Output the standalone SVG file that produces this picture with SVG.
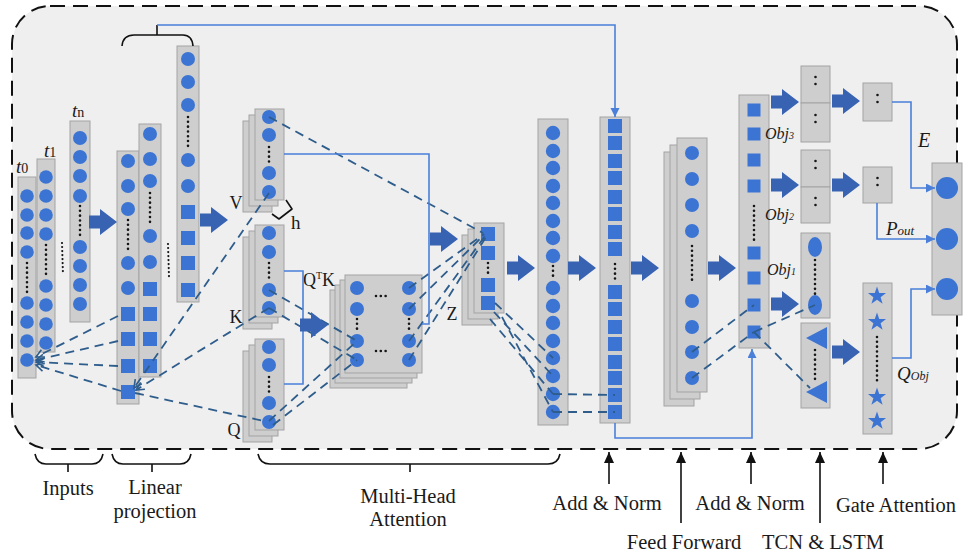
<svg xmlns="http://www.w3.org/2000/svg" width="963" height="554" viewBox="0 0 963 554">
<defs>
<style>
.bg{fill:#efefef;stroke:#111;stroke-width:2;stroke-dasharray:15 8}
.card{fill:#cecece;stroke:#a3a3a3;stroke-width:1}
.n{fill:#3c74d3}
.vd{fill:none;stroke:#151515;stroke-width:2.6;stroke-linecap:round;stroke-dasharray:0.01 4.8}
.dash{fill:none;stroke:#2e5d8c;stroke-width:1.8;stroke-dasharray:9 6}
.bl{fill:none;stroke:#4a80da;stroke-width:1.6}
.ba{fill:#3862b2}
.t{font-family:"Liberation Serif","Times New Roman",serif;fill:#1a1a1a}
.it{font-style:italic}
.br{fill:none;stroke:#111;stroke-width:1.6}
.ka{fill:none;stroke:#111;stroke-width:1.6}
</style>
<path id="ba" d="M0,-6.5H11V-13L28,0L11,13V6.5H0Z"/>
<path id="star" d="M0,-9.5L2.23,-3.07L9.03,-2.94L3.61,1.17L5.58,7.69L0,3.8L-5.58,7.69L-3.61,1.17L-9.03,-2.94L-2.23,-3.07Z"/>
<marker id="md" markerUnits="userSpaceOnUse" markerWidth="12" markerHeight="12" refX="9" refY="5" orient="auto"><path d="M1,1L9,5L1,9" fill="none" stroke="#2e5d8c" stroke-width="1.6"/></marker>
<marker id="mb" markerUnits="userSpaceOnUse" markerWidth="10" markerHeight="10" refX="9" refY="4.5" orient="auto"><path d="M0,0L9,4.5L0,9Z" fill="#4a80da"/></marker>
<marker id="mk" markerUnits="userSpaceOnUse" markerWidth="12" markerHeight="12" refX="11" refY="5" orient="auto"><path d="M0,0L11,5L0,10Z" fill="#111"/></marker>
</defs>

<rect class="bg" x="12" y="6" width="945" height="443" rx="38"/>

<g id="inputs">
<rect class="card" x="18" y="177" width="18" height="201"/>
<circle class="n" cx="27" cy="196" r="6.8"/><circle class="n" cx="27" cy="215" r="6.8"/><circle class="n" cx="27" cy="233" r="6.8"/><circle class="n" cx="27" cy="252" r="6.8"/>
<line class="vd" x1="27" y1="263" x2="27" y2="293"/>
<circle class="n" cx="27" cy="303" r="6.8"/><circle class="n" cx="27" cy="322" r="6.8"/><circle class="n" cx="27" cy="341" r="6.8"/><circle class="n" cx="27" cy="360" r="6.8"/>
<rect class="card" x="37" y="159" width="18" height="193"/>
<circle class="n" cx="46" cy="177" r="6.8"/><circle class="n" cx="46" cy="196" r="6.8"/><circle class="n" cx="46" cy="215" r="6.8"/><circle class="n" cx="46" cy="234" r="6.8"/>
<line class="vd" x1="46" y1="245" x2="46" y2="276"/>
<circle class="n" cx="46" cy="286" r="6.8"/><circle class="n" cx="46" cy="305" r="6.8"/><circle class="n" cx="46" cy="324" r="6.8"/><circle class="n" cx="46" cy="343" r="6.8"/>
<line class="vd" x1="62" y1="243" x2="63" y2="275" style="stroke-width:2.2;stroke-dasharray:0.01 4"/>
<rect class="card" x="70" y="121" width="20" height="201"/>
<circle class="n" cx="80" cy="138" r="7"/><circle class="n" cx="80" cy="157" r="7"/><circle class="n" cx="80" cy="176" r="7"/><circle class="n" cx="80" cy="196" r="7"/>
<line class="vd" x1="80" y1="206" x2="80" y2="237"/>
<circle class="n" cx="80" cy="247" r="7"/><circle class="n" cx="80" cy="266" r="7"/><circle class="n" cx="80" cy="285" r="7"/><circle class="n" cx="80" cy="304" r="7"/>
<text class="t" x="16" y="173" font-size="19"><tspan class="it">t</tspan><tspan font-size="14">0</tspan></text>
<text class="t" x="44" y="157" font-size="19"><tspan class="it">t</tspan><tspan font-size="14">1</tspan></text>
<text class="t" x="72" y="117" font-size="19"><tspan class="it">t</tspan><tspan font-size="14">n</tspan></text>
</g>

<g id="linear-projection">
<rect class="card" x="117" y="151" width="22" height="253"/>
<circle class="n" cx="128" cy="161" r="7"/><circle class="n" cx="128" cy="186" r="7"/><circle class="n" cx="128" cy="209" r="7"/>
<line class="vd" x1="128" y1="220" x2="128" y2="252"/>
<circle class="n" cx="128" cy="263" r="7"/><circle class="n" cx="128" cy="288" r="7"/>
<rect class="n" x="121" y="307" width="14" height="14"/><rect class="n" x="121" y="332" width="14" height="14"/><rect class="n" x="121" y="359" width="14" height="14"/><rect class="n" x="121" y="385" width="14" height="14"/>
<rect class="card" x="139" y="124" width="22" height="253"/>
<circle class="n" cx="150" cy="134" r="7"/><circle class="n" cx="150" cy="159" r="7"/><circle class="n" cx="150" cy="181" r="7"/>
<line class="vd" x1="150" y1="193" x2="150" y2="226"/>
<circle class="n" cx="150" cy="236" r="7"/><circle class="n" cx="150" cy="262" r="7"/>
<rect class="n" x="143" y="282" width="14" height="14"/><rect class="n" x="143" y="307" width="14" height="14"/><rect class="n" x="143" y="332" width="14" height="14"/><rect class="n" x="143" y="359" width="14" height="14"/>
<line class="vd" x1="168" y1="244" x2="169" y2="277" style="stroke-width:2.2;stroke-dasharray:0.01 4"/>
<rect class="card" x="177" y="46" width="22" height="256"/>
<circle class="n" cx="188" cy="59" r="7"/><circle class="n" cx="188" cy="82" r="7"/><circle class="n" cx="188" cy="105" r="7"/>
<line class="vd" x1="188" y1="117" x2="188" y2="150"/>
<circle class="n" cx="188" cy="160" r="7"/><circle class="n" cx="188" cy="186" r="7"/>
<rect class="n" x="181" y="205" width="14" height="14"/><rect class="n" x="181" y="231" width="14" height="14"/><rect class="n" x="181" y="256" width="14" height="14"/><rect class="n" x="181" y="283" width="14" height="14"/>
<path class="br" d="M122,46Q123,35 134,35H183Q192,35 193,46M157,35V25"/>
</g>

<g id="V">
<rect class="card" x="243" y="121" width="29" height="91"/><rect class="card" x="249" y="115" width="29" height="91"/><rect class="card" x="255" y="109" width="29" height="91"/>
<circle class="n" cx="269" cy="117" r="7"/><circle class="n" cx="269" cy="135" r="7"/>
<line class="vd" x1="269" y1="147" x2="269" y2="163"/>
<circle class="n" cx="269" cy="173" r="7"/><circle class="n" cx="269" cy="192" r="7"/>
<text class="t" x="236" y="209" font-size="18" text-anchor="middle">V</text>
<path class="br" d="M272,214L279,219L292,209L286,200" stroke-linejoin="round"/>
<text class="t" x="291" y="229" font-size="19">h</text>
</g>

<g id="K">
<rect class="card" x="243" y="237" width="29" height="92"/><rect class="card" x="249" y="231" width="29" height="92"/><rect class="card" x="255" y="225" width="29" height="92"/>
<circle class="n" cx="269" cy="233" r="7"/><circle class="n" cx="269" cy="252" r="7"/>
<line class="vd" x1="269" y1="263" x2="269" y2="279"/>
<circle class="n" cx="269" cy="290" r="7"/><circle class="n" cx="269" cy="308" r="7"/>
<text class="t" x="236" y="323" font-size="18" text-anchor="middle">K</text>
</g>

<g id="Q">
<rect class="card" x="243" y="351" width="29" height="91"/><rect class="card" x="249" y="345" width="29" height="91"/><rect class="card" x="255" y="339" width="29" height="91"/>
<circle class="n" cx="269" cy="347" r="7"/><circle class="n" cx="269" cy="365" r="7"/>
<line class="vd" x1="269" y1="377" x2="269" y2="393"/>
<circle class="n" cx="269" cy="403" r="7"/><circle class="n" cx="269" cy="422" r="7"/>
<text class="t" x="234" y="436" font-size="18" text-anchor="middle">Q</text>
</g>

<g id="QtK">
<rect class="card" x="330" y="290" width="77" height="98"/><rect class="card" x="335" y="285" width="77" height="98"/><rect class="card" x="340" y="280" width="77" height="98"/><rect class="card" x="345" y="275" width="77" height="98"/>
<circle class="n" cx="357" cy="288" r="7"/><circle class="n" cx="357" cy="309" r="7"/><circle class="n" cx="357" cy="341" r="7"/><circle class="n" cx="357" cy="360" r="7"/>
<circle class="n" cx="409" cy="288" r="7"/><circle class="n" cx="409" cy="309" r="7"/><circle class="n" cx="409" cy="341" r="7"/><circle class="n" cx="409" cy="360" r="7"/>
<line class="vd" x1="357" y1="319" x2="357" y2="332"/><line class="vd" x1="409" y1="319" x2="409" y2="332"/>
<line class="vd" x1="376" y1="296" x2="390" y2="296"/><line class="vd" x1="376" y1="351" x2="390" y2="351"/>
<text class="t" x="303" y="286" font-size="18">Q<tspan font-size="10" dy="-7">T</tspan><tspan dy="7">K</tspan></text>
</g>

<g id="Z">
<rect class="card" x="462" y="235" width="30" height="90"/><rect class="card" x="468" y="229" width="30" height="90"/><rect class="card" x="474" y="223" width="30" height="90"/>
<rect class="n" x="481" y="227" width="14" height="14"/><rect class="n" x="481" y="246" width="14" height="14"/>
<line class="vd" x1="488" y1="263" x2="488" y2="276"/>
<rect class="n" x="481" y="278" width="14" height="14"/><rect class="n" x="481" y="296" width="14" height="14"/>
<text class="t" x="452" y="320" font-size="18" text-anchor="middle">Z</text>
</g>

<g id="concat">
<rect class="card" x="538" y="119" width="30" height="306"/>
<circle class="n" cx="553" cy="133" r="7.2"/><circle class="n" cx="553" cy="151" r="7.2"/><circle class="n" cx="553" cy="168" r="7.2"/><circle class="n" cx="553" cy="186" r="7.2"/><circle class="n" cx="553" cy="203" r="7.2"/><circle class="n" cx="553" cy="221" r="7.2"/><circle class="n" cx="553" cy="238" r="7.2"/><circle class="n" cx="553" cy="256" r="7.2"/>
<line class="vd" x1="553" y1="266" x2="553" y2="279"/>
<circle class="n" cx="553" cy="288" r="7.2"/><circle class="n" cx="553" cy="306" r="7.2"/><circle class="n" cx="553" cy="323" r="7.2"/><circle class="n" cx="553" cy="341" r="7.2"/><circle class="n" cx="553" cy="358" r="7.2"/><circle class="n" cx="553" cy="376" r="7.2"/><circle class="n" cx="553" cy="394" r="7.2"/><circle class="n" cx="553" cy="412" r="7.2"/>
</g>

<g id="add-norm-1">
<rect class="card" x="600" y="117" width="30" height="306"/>
<rect class="n" x="608" y="119" width="14" height="14"/><rect class="n" x="608" y="136" width="14" height="14"/><rect class="n" x="608" y="154" width="14" height="14"/><rect class="n" x="608" y="171" width="14" height="14"/><rect class="n" x="608" y="190" width="14" height="14"/><rect class="n" x="608" y="207" width="14" height="14"/><rect class="n" x="608" y="225" width="14" height="14"/><rect class="n" x="608" y="242" width="14" height="14"/>
<line class="vd" x1="615" y1="264" x2="615" y2="279"/>
<rect class="n" x="608" y="285" width="14" height="14"/><rect class="n" x="608" y="302" width="14" height="14"/><rect class="n" x="608" y="320" width="14" height="14"/><rect class="n" x="608" y="337" width="14" height="14"/><rect class="n" x="608" y="355" width="14" height="14"/><rect class="n" x="608" y="371" width="14" height="14"/><rect class="n" x="608" y="388" width="14" height="14"/><rect class="n" x="608" y="405" width="14" height="14"/>
</g>

<g id="feed-forward">
<rect class="card" x="664" y="152" width="30" height="254"/><rect class="card" x="670" y="145" width="30" height="254"/><rect class="card" x="677" y="138" width="30" height="254"/>
<circle class="n" cx="692" cy="153" r="7"/><circle class="n" cx="692" cy="179" r="7"/><circle class="n" cx="692" cy="205" r="7"/><circle class="n" cx="692" cy="231" r="7"/>
<line class="vd" x1="692" y1="246" x2="692" y2="284"/>
<circle class="n" cx="692" cy="301" r="7"/><circle class="n" cx="692" cy="327" r="7"/><circle class="n" cx="692" cy="352" r="7"/><circle class="n" cx="692" cy="378" r="7"/>
</g>

<g id="add-norm-2">
<rect class="card" x="739" y="95" width="30" height="253"/>
<rect class="n" x="747.5" y="103.5" width="13" height="13"/><rect class="n" x="747.5" y="127.5" width="13" height="13"/><rect class="n" x="747.5" y="153.5" width="13" height="13"/><rect class="n" x="747.5" y="179.5" width="13" height="13"/>
<line class="vd" x1="754" y1="206" x2="754" y2="243"/>
<rect class="n" x="747.5" y="246.5" width="13" height="13"/><rect class="n" x="747.5" y="271.5" width="13" height="13"/><rect class="n" x="747.5" y="298.5" width="13" height="13"/><rect class="n" x="747.5" y="325.5" width="13" height="13"/>
</g>

<g id="obj3">
<rect class="card" x="801" y="66" width="29" height="37"/><rect class="card" x="801" y="103" width="29" height="39"/>
<line class="vd" x1="815.5" y1="77" x2="815.5" y2="91" style="stroke-dasharray:0.01 7"/>
<line class="vd" x1="815.5" y1="115" x2="815.5" y2="129" style="stroke-dasharray:0.01 7"/>
<text class="t it" x="765" y="139" font-size="16">Obj<tspan font-size="10">3</tspan></text>
</g>
<g id="obj2">
<rect class="card" x="801" y="150" width="29" height="37"/><rect class="card" x="801" y="187" width="29" height="36"/>
<line class="vd" x1="815.5" y1="161" x2="815.5" y2="175" style="stroke-dasharray:0.01 7"/>
<line class="vd" x1="815.5" y1="198" x2="815.5" y2="212" style="stroke-dasharray:0.01 7"/>
<text class="t it" x="765" y="220" font-size="16">Obj<tspan font-size="10">2</tspan></text>
</g>
<g id="obj1">
<rect class="card" x="801" y="233" width="29" height="85"/>
<ellipse class="n" cx="815" cy="247" rx="7" ry="10"/>
<line class="vd" x1="815" y1="260" x2="815" y2="294"/>
<ellipse class="n" cx="815" cy="305" rx="7" ry="10"/>
<text class="t it" x="767" y="275" font-size="16">Obj<tspan font-size="10">1</tspan></text>
</g>
<g id="tcn">
<rect class="card" x="801" y="323" width="29" height="85"/>
<path class="n" d="M806,338L827,327V349Z"/>
<line class="vd" x1="815" y1="350" x2="815" y2="381"/>
<path class="n" d="M806,392L827,381V403Z"/>
</g>

<g id="E">
<rect class="card" x="863" y="83" width="29" height="38"/>
<line class="vd" x1="877.5" y1="95" x2="877.5" y2="109" style="stroke-dasharray:0.01 7"/>
</g>
<g id="P">
<rect class="card" x="863" y="167" width="29" height="36"/>
<line class="vd" x1="877.5" y1="178" x2="877.5" y2="192" style="stroke-dasharray:0.01 7"/>
</g>
<g id="QObj">
<rect class="card" x="863" y="283" width="29" height="151"/>
<use href="#star" class="n" x="877" y="296"/><use href="#star" class="n" x="877" y="322"/>
<line class="vd" x1="877" y1="337" x2="877" y2="382"/>
<use href="#star" class="n" x="877" y="397"/><use href="#star" class="n" x="877" y="421"/>
</g>

<g id="output">
<rect class="card" x="932" y="163" width="30" height="152"/>
<circle class="n" cx="947" cy="188" r="11"/><circle class="n" cx="947" cy="239" r="11"/><circle class="n" cx="947" cy="289" r="11"/>
</g>

<g id="connectors">
<line class="dash" x1="118" y1="316" x2="36" y2="357" marker-end="url(#md)"/>
<line class="dash" x1="118" y1="341" x2="36" y2="360" marker-end="url(#md)"/>
<line class="dash" x1="118" y1="366" x2="36" y2="362" marker-end="url(#md)"/>
<line class="dash" x1="121" y1="391" x2="36" y2="365" marker-end="url(#md)"/>
<line class="dash" x1="269" y1="193" x2="134" y2="388" marker-end="url(#md)"/>
<line class="dash" x1="269" y1="308" x2="136" y2="390" marker-end="url(#md)"/>
<line class="dash" x1="135" y1="393" x2="264" y2="421"/>
<line class="dash" x1="269" y1="117" x2="483" y2="233"/>
<line class="dash" x1="269" y1="290" x2="357" y2="341"/>
<line class="dash" x1="269" y1="308" x2="357" y2="360"/>
<line class="dash" x1="269" y1="421" x2="357" y2="341"/>
<line class="dash" x1="273" y1="425" x2="357" y2="360"/>
<line class="dash" x1="409" y1="288" x2="484" y2="234"/>
<line class="dash" x1="409" y1="309" x2="484" y2="235"/>
<line class="dash" x1="409" y1="341" x2="485" y2="236"/>
<line class="dash" x1="409" y1="360" x2="486" y2="237"/>
<line class="dash" x1="495" y1="303" x2="553" y2="358"/>
<line class="dash" x1="494" y1="312" x2="553" y2="376"/>
<line class="dash" x1="490" y1="319" x2="553" y2="394"/>
<line class="dash" x1="502" y1="317" x2="553" y2="412"/>
<line class="dash" x1="553" y1="394" x2="615" y2="395"/>
<line class="dash" x1="553" y1="412" x2="615" y2="412"/>
<line class="dash" x1="692" y1="352" x2="754" y2="305"/>
<line class="dash" x1="692" y1="378" x2="754" y2="332"/>
<line class="dash" x1="754" y1="332" x2="815" y2="305"/>
<line class="dash" x1="754" y1="332" x2="810" y2="388"/>

<path class="bl" d="M157,25H615V117" marker-end="url(#mb)"/>
<path class="bl" d="M284,154H429V324H422"/>
<path class="bl" d="M284,271H303V384H284"/>
<path class="bl" d="M615,423V438H752V349" marker-end="url(#mb)"/>
<path class="bl" d="M892,102H911V188H935" marker-end="url(#mb)"/>
<path class="bl" d="M877,203V239H935" marker-end="url(#mb)"/>
<path class="bl" d="M892,358H911V289H935" marker-end="url(#mb)"/>

<use href="#ba" class="ba" x="89" y="222"/>
<use href="#ba" class="ba" x="200" y="220"/>
<use href="#ba" class="ba" x="300" y="325"/>
<use href="#ba" class="ba" x="430" y="239"/>
<use href="#ba" class="ba" x="507" y="268"/>
<use href="#ba" class="ba" x="568" y="268"/>
<use href="#ba" class="ba" x="631" y="268"/>
<use href="#ba" class="ba" x="708" y="268"/>
<use href="#ba" class="ba" x="771" y="102"/>
<use href="#ba" class="ba" x="771" y="185"/>
<use href="#ba" class="ba" x="771" y="304"/>
<use href="#ba" class="ba" x="832" y="101"/>
<use href="#ba" class="ba" x="832" y="185"/>
<use href="#ba" class="ba" x="832" y="352"/>
</g>

<g id="var-labels">
<text class="t it" x="918" y="147" font-size="20">E</text>
<text class="t it" x="886" y="235" font-size="19">P<tspan font-size="13">out</tspan></text>
<text class="t it" x="897" y="380" font-size="19">Q<tspan font-size="12">Obj</tspan></text>
</g>

<g id="annotations">
<path class="br" d="M35,454Q37,464 46,464H92Q101,464 103,454M68,464V472"/>
<path class="br" d="M112,454Q114,464 123,464H180Q189,464 191,454M152,464V472"/>
<path class="br" d="M258,454Q260,464 270,464H548Q558,464 560,454M410,464V472"/>
<line class="ka" x1="609" y1="484" x2="609" y2="452" marker-end="url(#mk)"/>
<line class="ka" x1="681" y1="523" x2="681" y2="452" marker-end="url(#mk)"/>
<line class="ka" x1="751" y1="484" x2="751" y2="452" marker-end="url(#mk)"/>
<line class="ka" x1="820" y1="523" x2="820" y2="452" marker-end="url(#mk)"/>
<line class="ka" x1="883" y1="484" x2="883" y2="452" marker-end="url(#mk)"/>
<g class="t" font-size="20.5" text-anchor="middle">
<text x="68" y="495">Inputs</text>
<text x="155" y="494">Linear</text>
<text x="155" y="518">projection</text>
<text x="408" y="503">Multi-Head</text>
<text x="408" y="526">Attention</text>
<text x="607" y="510">Add &amp; Norm</text>
<text x="684" y="549">Feed Forward</text>
<text x="750" y="510">Add &amp; Norm</text>
<text x="823" y="549">TCN &amp; LSTM</text>
<text x="896" y="512">Gate Attention</text>
</g>
</g>
</svg>
